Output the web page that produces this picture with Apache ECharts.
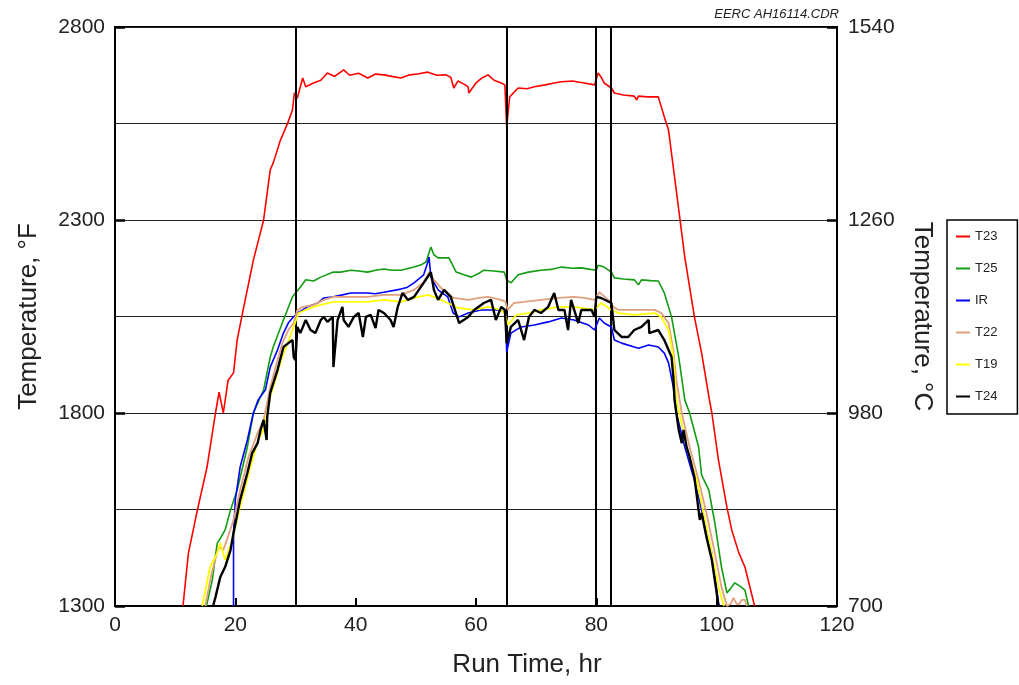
<!DOCTYPE html>
<html>
<head>
<meta charset="utf-8">
<script src="https://cdn.jsdelivr.net/npm/echarts@6/dist/echarts.min.js"></script>
<style>html,body{margin:0;padding:0;background:#fff}#c{width:1019px;height:685px}</style>
</head>
<body>
<div id="c"></div>
<script>
const seriesNames = ['T23','T25','IR','T22','T19','T24'];
const eventLines = [30, 65.1, 79.9, 82.4];
const xTicks = [0,120,20];
const fTicks = [1300,2800,500];
const cTicks = [700,1540,280];

const t23 = [[11.3,1300],[12.2,1437],[13.7,1549],[15.3,1660],[16.7,1800],[17.3,1854],[18.0,1800],[18.8,1885],[19.7,1904],[20.3,1989],[21.3,2067],[23.0,2196],[24.7,2300],[25.8,2430],[26.3,2448],[27.5,2507],[28.7,2551],[29.5,2585],[29.8,2629],[30.3,2616],[31.2,2668],[31.7,2645],[33.0,2655],[34.2,2662],[35.3,2681],[36.5,2672],[38.0,2689],[39.0,2675],[40.5,2680],[42.0,2668],[43.3,2678],[44.7,2676],[46.0,2672],[47.5,2668],[49.0,2676],[50.5,2679],[52.0,2683],[53.5,2675],[55.0,2676],[55.8,2670],[56.3,2642],[57.0,2660],[58.0,2652],[58.7,2645],[58.8,2629],[60.0,2655],[61.0,2668],[62.0,2676],[63.0,2662],[64.2,2655],[64.8,2650],[65.1,2541],[65.6,2619],[67.0,2642],[68.5,2640],[69.7,2645],[71.5,2650],[73.0,2655],[74.2,2658],[76.0,2660],[78.0,2655],[79.7,2650],[80.3,2681],[80.8,2670],[81.3,2655],[82.5,2642],[83.0,2629],[84.5,2624],[86.3,2621],[86.7,2611],[87.0,2621],[88.5,2619],[90.3,2619],[91.3,2567],[92.0,2533],[93.7,2326],[94.7,2204],[96.3,2049],[97.5,1955],[98.8,1834],[99.2,1800],[100.3,1678],[101.7,1556],[102.5,1497],[103.7,1437],[104.7,1401],[106.3,1300]];

const t25 = [[15.2,1300],[16.2,1370],[16.7,1430],[17.0,1463],[17.5,1475],[18.3,1497],[19.2,1549],[20.3,1600],[22.0,1712],[23.0,1800],[24.7,1860],[25.8,1945],[26.3,1971],[27.8,2033],[29.5,2101],[30.0,2111],[30.8,2126],[31.7,2145],[33.0,2142],[34.2,2152],[36.3,2165],[37.5,2165],[39.2,2170],[40.5,2168],[42.0,2165],[43.3,2170],[44.7,2173],[46.0,2170],[47.5,2170],[49.7,2178],[51.0,2185],[51.7,2191],[52.5,2230],[53.0,2210],[53.7,2202],[55.5,2202],[56.7,2165],[58.0,2158],[59.2,2152],[60.5,2162],[61.3,2170],[63.0,2168],[64.7,2165],[65.1,2145],[65.8,2137],[67.0,2158],[68.7,2165],[70.8,2170],[72.5,2172],[74.2,2178],[76.0,2175],[77.5,2176],[79.0,2172],[80.0,2170],[80.3,2183],[81.3,2178],[82.5,2165],[83.0,2150],[84.5,2147],[86.3,2145],[87.0,2132],[87.5,2145],[89.0,2143],[90.3,2142],[91.3,2111],[92.5,2049],[93.7,1945],[94.7,1834],[95.5,1800],[97.0,1712],[97.5,1639],[98.7,1600],[99.7,1515],[100.8,1401],[101.7,1334],[102.3,1345],[103.0,1360],[104.0,1350],[104.7,1341],[105.3,1300]];

const ir = [[19.7,1300],[19.7,1489],[20.0,1575],[20.8,1660],[22.0,1730],[23.0,1800],[23.8,1834],[25.0,1860],[25.8,1919],[27.0,1963],[28.0,2007],[28.8,2033],[29.5,2046],[30.3,2059],[31.2,2067],[32.0,2075],[33.7,2085],[34.7,2098],[36.3,2101],[37.8,2106],[39.2,2111],[42.0,2111],[43.3,2109],[44.7,2113],[47.5,2121],[48.5,2125],[49.7,2137],[51.3,2158],[52.0,2191],[52.2,2204],[52.5,2152],[53.7,2119],[55.3,2101],[56.2,2059],[57.2,2049],[58.7,2059],[60.8,2067],[63.0,2067],[64.2,2067],[64.9,2059],[65.1,1958],[65.8,2007],[67.5,2023],[69.7,2028],[72.0,2036],[74.2,2046],[76.3,2041],[78.7,2028],[79.7,2015],[80.5,2046],[81.3,2033],[82.5,2023],[83.0,1989],[84.2,1981],[86.3,1971],[87.0,1968],[88.7,1976],[90.3,1971],[91.3,1955],[92.0,1930],[92.8,1867],[93.3,1800],[94.7,1712],[96.3,1626],[97.5,1549],[99.2,1437],[100.3,1308],[100.4,1300]];

const t22 = [[15.0,1300],[16.0,1380],[17.2,1453],[18.0,1445],[19.0,1490],[19.7,1523],[20.8,1600],[22.2,1686],[23.7,1748],[24.7,1782],[25.8,1867],[26.7,1919],[27.8,1981],[28.8,2015],[29.7,2033],[30.3,2067],[31.3,2075],[33.0,2080],[34.7,2093],[36.3,2101],[39.2,2101],[42.0,2101],[44.7,2106],[47.5,2106],[49.7,2119],[51.3,2139],[52.2,2165],[53.0,2145],[54.2,2124],[56.3,2098],[58.7,2093],[60.5,2098],[62.0,2101],[64.2,2093],[64.9,2088],[65.3,2067],[66.3,2085],[68.0,2088],[70.8,2093],[73.7,2098],[76.3,2101],[78.0,2098],[79.7,2093],[80.5,2113],[82.0,2093],[82.8,2075],[83.7,2067],[86.3,2067],[89.7,2067],[90.8,2059],[92.0,2033],[92.8,1963],[93.3,1885],[94.2,1800],[95.5,1712],[97.0,1626],[98.3,1541],[99.7,1437],[100.8,1349],[101.7,1300],[102.3,1305],[102.8,1321],[103.3,1306],[103.7,1304],[104.2,1316],[104.7,1316],[105.0,1300]];

const t19 = [[14.5,1300],[15.8,1401],[17.0,1437],[17.5,1463],[18.3,1419],[19.5,1471],[20.8,1557],[22.5,1660],[23.8,1730],[24.7,1756],[25.8,1841],[27.0,1904],[27.8,1945],[28.7,1981],[29.7,2023],[30.5,2059],[31.7,2067],[33.0,2075],[34.2,2080],[36.3,2088],[39.2,2088],[42.0,2088],[44.7,2093],[47.5,2088],[49.7,2098],[52.0,2106],[53.0,2101],[55.3,2085],[57.0,2072],[59.7,2067],[62.0,2075],[64.2,2067],[64.9,2054],[65.3,2028],[66.7,2054],[68.7,2059],[70.8,2067],[73.7,2075],[76.3,2075],[79.7,2067],[80.8,2085],[82.5,2067],[83.7,2059],[86.3,2054],[89.7,2059],[90.8,2049],[92.0,2015],[92.8,1945],[93.3,1834],[93.8,1800],[95.0,1712],[96.7,1626],[97.8,1541],[99.2,1437],[100.3,1349],[101.2,1300]];

const t24 = [[16.3,1300],[16.7,1323],[17.5,1375],[18.3,1401],[19.2,1445],[19.7,1489],[20.8,1575],[22.0,1645],[22.8,1696],[23.7,1722],[24.2,1756],[24.7,1782],[25.2,1730],[25.3,1790],[25.8,1852],[27.0,1911],[28.0,1971],[28.8,1981],[29.5,1989],[29.7,1945],[30.0,1937],[30.3,2023],[30.8,2007],[31.7,2041],[32.5,2015],[33.3,2007],[34.2,2041],[34.7,2049],[35.3,2036],[36.2,2049],[36.3,1919],[37.0,2041],[37.8,2075],[38.0,2041],[38.8,2023],[39.7,2049],[40.5,2059],[41.2,1997],[41.7,2049],[42.5,2054],[43.3,2020],[43.8,2067],[44.7,2059],[45.8,2041],[46.3,2023],[47.0,2075],[47.8,2111],[48.7,2093],[49.7,2101],[51.3,2137],[52.5,2165],[53.0,2119],[53.7,2093],[54.7,2119],[55.8,2101],[57.2,2033],[58.7,2049],[59.7,2067],[61.3,2085],[62.5,2093],[63.3,2041],[64.2,2075],[64.8,2067],[65.1,1981],[65.8,2023],[67.0,2041],[68.0,1989],[68.8,2049],[69.7,2067],[70.8,2059],[72.0,2075],[73.0,2111],[73.7,2067],[74.7,2067],[75.3,2015],[75.8,2093],[77.0,2033],[77.5,2067],[79.2,2067],[79.7,2049],[80.0,2101],[80.8,2098],[82.5,2085],[83.0,2015],[84.2,1997],[85.3,1997],[86.3,2015],[87.5,2023],[88.7,2041],[88.8,2007],[90.3,2015],[91.3,1989],[92.5,1945],[92.8,1893],[93.0,1834],[93.3,1800],[93.7,1756],[94.2,1722],[94.5,1756],[95.0,1712],[95.5,1686],[96.3,1634],[97.2,1523],[97.5,1541],[98.3,1479],[99.2,1419],[100.0,1334],[100.3,1300]];

const seriesData = [t23, t25, ir, t22, t19, t24];
const seriesColors = ['#ff0000','#129c12','#0000ff','#e0a07c','#ffff00','#000000'];
const seriesWidths = [1.6,1.6,1.6,1.8,1.8,2.4];

const FONT = "'Liberation Sans', Arial, Helvetica, sans-serif";
const chart = echarts.init(document.getElementById('c'), null, {renderer:'canvas'});

const series = seriesNames.map((n,i)=>({
  name:n, type:'line', data:seriesData[i], xAxisIndex:0, yAxisIndex:0,
  symbol:'none', showSymbol:false, animation:false, z:3+i,
  lineStyle:{color:seriesColors[i], width:seriesWidths[i]},
  itemStyle:{color:seriesColors[i]}
}));
series[0].markLine = {
  silent:true, symbol:['none','none'], animation:false,
  label:{show:false},
  lineStyle:{color:'#000', width:2, type:'solid'},
  data: eventLines.map(v=>({xAxis:v}))
};

const plain = v => String(v);

chart.setOption({
  backgroundColor:'#fff',
  animation:false,
  grid:{left:115, right:182, top:27, bottom:79, show:true, borderColor:'#000', borderWidth:2, backgroundColor:'transparent'},
  graphic:[{type:'text', right:180, top:8, style:{text:'EERC AH16114.CDR', font:"italic 13px "+FONT, fill:'#222'}}],
  legend:{
    data:seriesNames, orient:'vertical', left:947, top:220,
    icon:'rect', itemWidth:14, itemHeight:2, itemGap:19,
    padding:[10,20,11,9], borderColor:'#000', borderWidth:1.5,
    textStyle:{fontFamily:FONT, fontSize:13, color:'#222'},
  },
  xAxis:[{
    type:'value', min:xTicks[0], max:xTicks[1], interval:xTicks[2],
    name:'Run Time, hr', nameLocation:'middle', nameGap:46,
    nameTextStyle:{fontFamily:FONT, fontSize:26, color:'#222', padding:[0,0,0,102]},
    axisLine:{show:true, onZero:false, lineStyle:{color:'#000', width:2}},
    axisTick:{show:true, inside:true, length:8, lineStyle:{color:'#000', width:2}},
    axisLabel:{fontFamily:FONT, fontSize:21, color:'#222', margin:9, formatter:plain},
    splitLine:{show:false}
  }],
  yAxis:[{
    type:'value', position:'left', min:fTicks[0], max:fTicks[1], interval:fTicks[2],
    name:'Temperature, °F', nameLocation:'middle', nameGap:73, nameRotate:90,
    nameTextStyle:{fontFamily:FONT, fontSize:26, color:'#222', padding:[0,0,0,0]},
    axisLine:{show:true, lineStyle:{color:'#000', width:2}},
    axisTick:{show:true, inside:true, length:10, lineStyle:{color:'#000', width:2.5}},
    axisLabel:{fontFamily:FONT, fontSize:21, color:'#222', margin:10, formatter:plain},
    splitLine:{show:false}
  },{
    type:'value', position:'right', min:cTicks[0], max:cTicks[1], interval:cTicks[2],
    name:'Temperature, °C', nameLocation:'middle', nameGap:72, nameRotate:-90,
    nameTextStyle:{fontFamily:FONT, fontSize:26, color:'#222'},
    axisLine:{show:true, lineStyle:{color:'#000', width:2}},
    axisTick:{show:true, inside:true, length:10, lineStyle:{color:'#000', width:2.5}},
    axisLabel:{fontFamily:FONT, fontSize:21, color:'#222', margin:11, formatter:plain},
    splitLine:{show:false}
  },{
    type:'value', position:'left', min:fTicks[0], max:fTicks[1], interval:fTicks[2]/2,
    axisLine:{show:false}, axisTick:{show:false}, axisLabel:{show:false},
    splitLine:{show:true, lineStyle:{color:'#222', width:1}}
  }],
  series: series
});
</script>
</body>
</html>
